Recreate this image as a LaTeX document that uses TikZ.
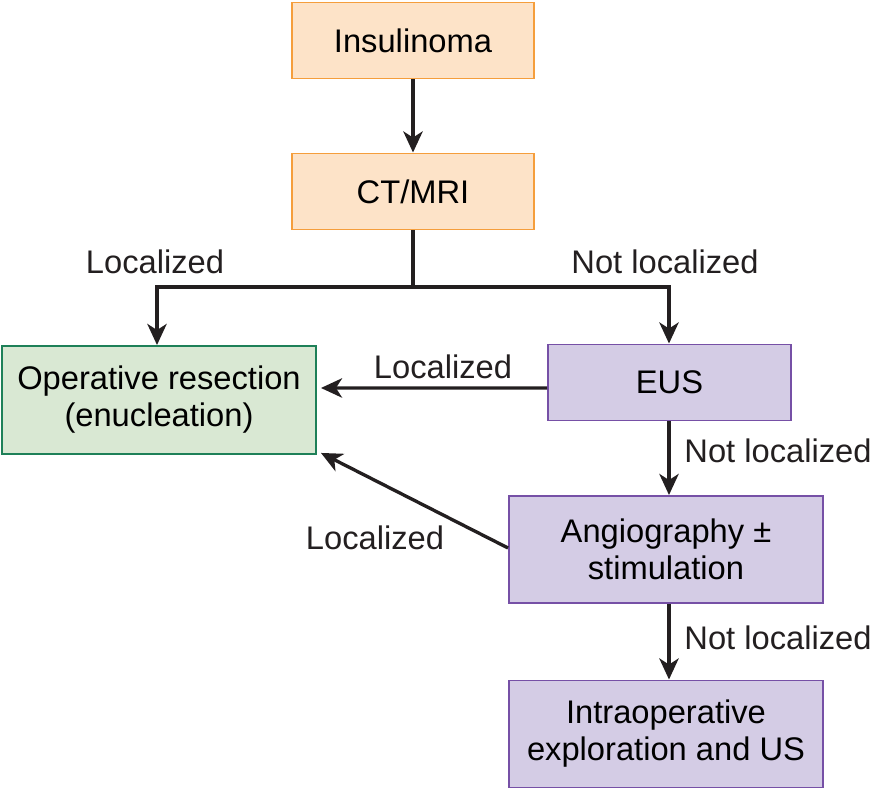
\documentclass[tikz,border=0pt]{standalone}
\usepackage{fontspec}
\setmainfont{Liberation Sans}
\usepackage{xcolor}
\usetikzlibrary{positioning, arrows.meta, calc}

\definecolor{peach}{HTML}{FDE3C8}
\definecolor{peachline}{HTML}{F59E3C}
\definecolor{mint}{HTML}{D9E8D3}
\definecolor{mintline}{HTML}{1E8058}
\definecolor{lilac}{HTML}{D4CCE5}
\definecolor{lilacline}{HTML}{7650A6}
\definecolor{arrowgray}{HTML}{231F20}

\tikzset{
    box/.style={draw, line width=1.1pt, align=center, inner sep=0pt,
        font=\fontsize{18.6}{21}\selectfont},
    startbox/.style={box, fill=peach, draw=peachline, minimum width=4.84cm, minimum height=1.52cm},
    treatbox/.style={box, fill=mint, draw=mintline, minimum width=6.28cm, minimum height=2.16cm},
    testbox/.style={box, fill=lilac, draw=lilacline, minimum width=4.86cm, minimum height=1.52cm},
    widebox/.style={box, fill=lilac, draw=lilacline, minimum width=6.28cm, minimum height=2.14cm},
    flow/.style={draw=arrowgray, line width=1.9pt, -{Stealth[length=12pt, width=11pt, inset=3.5pt]}},
    tag/.style={font=\fontsize{18.6}{21}\selectfont, text=arrowgray}
}

\begin{document}
\begin{tikzpicture}
    \useasboundingbox (0,0) rectangle (17.46,15.8);

    % Boxes
    \node[startbox] (insul) at (8.26, 14.99) {Insulinoma};
    \node[startbox] (ctmri) at (8.26, 11.97) {CT/MRI};
    \node[treatbox] (oper) at (3.18, 7.8) {Operative resection\\(enucleation)};
    \node[testbox] (eus) at (13.39, 8.15) {EUS};
    \node[widebox] (angio) at (13.32, 4.81) {Angiography ±\\stimulation};
    \node[widebox] (intra) at (13.32, 1.12) {Intraoperative\\exploration and US};

    % Branch point below CT/MRI
    \coordinate (split) at (ctmri.south |- 0,10.06);
    \coordinate (leftturn) at (3.14, 10.06);
    \coordinate (rightturn) at (13.38, 10.06);

    % Connectors
    \draw[flow] (insul) -- (ctmri);
    \draw[draw=arrowgray, line width=1.9pt] (ctmri.south) -- (split);
    \draw[flow] (split) -- (leftturn) -- (leftturn |- oper.north);
    \draw[flow] (split) -- (rightturn) -- (rightturn |- eus.north);
    \draw[flow] ($(eus.west)+(0,-0.11)$) -- ($(oper.east)+(0.08,0.24)$);
    \draw[flow] (rightturn |- eus.south) -- (rightturn |- angio.north);
    \draw[flow] ($(angio.west)+(0,0.03)$) -- ($(oper.south east)+(0.08,0.04)$);
    \draw[flow] (rightturn |- angio.south) -- (rightturn |- intra.north);

    % Labels
    \node[tag] (loc1) at (3.1, 10.56) {Localized};
    \node[tag] (notloc1) at (13.3, 10.56) {Not localized};
    \node[tag] (loc2) at (8.86, 8.46) {Localized};
    \node[tag] (notloc2) at (15.56, 6.78) {Not localized};
    \node[tag] (loc3) at (7.5, 5.04) {Localized};
    \node[tag] (notloc3) at (15.56, 3.04) {Not localized};
\end{tikzpicture}
\end{document}
